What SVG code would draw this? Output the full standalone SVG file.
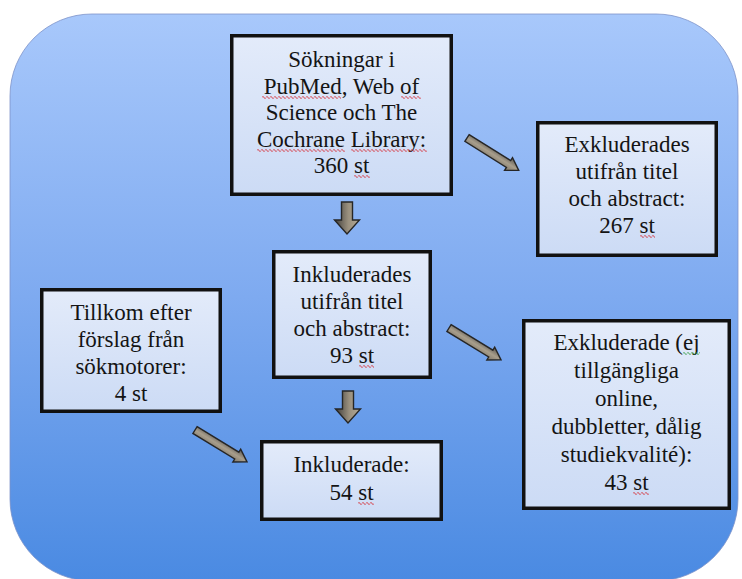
<svg xmlns="http://www.w3.org/2000/svg" width="742" height="579" viewBox="0 0 742 579">
<style>
.box{fill:url(#boxg);stroke:#111;stroke-width:3.5}
.t{font-family:"Liberation Serif","Times New Roman",serif;font-size:23px;fill:#141414;text-anchor:middle}
.arr{fill:url(#arrg);stroke:#262626;stroke-width:1.4;stroke-linejoin:miter}
.sqr{fill:url(#wr)}
.sqg{fill:url(#wg)}
</style>
<defs>
<linearGradient id="bg" x1="0" y1="0" x2="0" y2="1">
<stop offset="0" stop-color="#a8c8fb"/>
<stop offset="0.5" stop-color="#7eaaf0"/>
<stop offset="1" stop-color="#4a8ae2"/>
</linearGradient>
<linearGradient id="boxg" x1="0" y1="0" x2="0" y2="1">
<stop offset="0" stop-color="#e3ebfa"/>
<stop offset="1" stop-color="#ccdbf5"/>
</linearGradient>
<linearGradient id="arrg" x1="0" y1="0" x2="0" y2="1">
<stop offset="0" stop-color="#5a5650"/>
<stop offset="0.5" stop-color="#a89e8c"/>
<stop offset="1" stop-color="#7c7466"/>
</linearGradient>
<linearGradient id="arrgd" x1="0" y1="0" x2="1" y2="0">
<stop offset="0" stop-color="#3e3c3a"/>
<stop offset="0.55" stop-color="#9a907e"/>
<stop offset="1" stop-color="#b4aa96"/>
</linearGradient>
<pattern id="wr" width="4" height="3" patternUnits="userSpaceOnUse">
<path d="M0 1.5 L1 0.4 L3 2.6 L4 1.5" fill="none" stroke="#d8262e" stroke-width="0.9"/>
</pattern>
<pattern id="wg" width="4" height="3" patternUnits="userSpaceOnUse">
<path d="M0 1.5 L1 0.4 L3 2.6 L4 1.5" fill="none" stroke="#2a9a3a" stroke-width="0.9"/>
</pattern>
<path id="diag" d="M0,-4 L49,-4 L49,-7.5 L61,0 L49,7.5 L49,4 L0,4 Z"/>
<path id="down" d="M-5.5,0 L5.5,0 L5.5,18 L12.5,18 L0,32 L-12.5,18 L-5.5,18 Z"/>
</defs>

<rect x="10" y="14" width="728" height="567" rx="82" ry="82" fill="url(#bg)" stroke="#7d93c9" stroke-width="0.8"/>

<g id="connectors">
<use href="#down" class="arr" style="fill:url(#arrgd)" transform="translate(347,202)"/>
<use href="#down" class="arr" style="fill:url(#arrgd)" transform="translate(348,391)"/>
<use href="#diag" class="arr" transform="translate(467,138) rotate(32)"/>
<use href="#diag" class="arr" transform="translate(449,328) rotate(31.5)"/>
<use href="#diag" class="arr" transform="translate(195,430) rotate(31.5)"/>
</g>

<g id="node-sokningar">
<rect class="box" x="231.75" y="35.75" width="219.5" height="158.5"/>
<text class="t" x="341.5" y="67">Sökningar i</text>
<text class="t" x="341.5" y="93.5">PubMed, Web of</text>
<text class="t" x="341.5" y="120">Science och The</text>
<text class="t" x="341.5" y="146.5">Cochrane Library:</text>
<text class="t" x="341.5" y="173">360 st</text>
<rect class="sqr" transform="translate(262,96)" width="79" height="3"/>
<rect class="sqr" transform="translate(401,96)" width="20" height="3"/>
<rect class="sqr" transform="translate(257,149)" width="88" height="3"/>
<rect class="sqr" transform="translate(351,149)" width="76" height="3"/>
<rect class="sqr" transform="translate(354,175)" width="16" height="3"/>
</g>

<g id="node-exkluderades-titel">
<rect class="box" x="537.75" y="122.75" width="178.5" height="132.5"/>
<text class="t" x="627" y="152">Exkluderades</text>
<text class="t" x="627" y="179">utifrån titel</text>
<text class="t" x="627" y="206">och abstract:</text>
<text class="t" x="627" y="233">267 st</text>
<rect class="sqr" transform="translate(640,235)" width="15" height="3"/>
</g>

<g id="node-inkluderades-titel">
<rect class="box" x="273.75" y="251.75" width="156.5" height="125.5"/>
<text class="t" x="352" y="282">Inkluderades</text>
<text class="t" x="352" y="309">utifrån titel</text>
<text class="t" x="352" y="336">och abstract:</text>
<text class="t" x="352" y="363">93 st</text>
<rect class="sqr" transform="translate(359,365)" width="15" height="3"/>
</g>

<g id="node-tillkom">
<rect class="box" x="41.75" y="289.75" width="178.5" height="121.5"/>
<text class="t" x="131" y="320">Tillkom efter</text>
<text class="t" x="131" y="347">förslag från</text>
<text class="t" x="131" y="374">sökmotorer:</text>
<text class="t" x="131" y="401">4 st</text>
</g>

<g id="node-inkluderade">
<rect class="box" x="261.75" y="441.75" width="179.5" height="77.5"/>
<text class="t" x="351.5" y="472">Inkluderade:</text>
<text class="t" x="351.5" y="500">54 st</text>
<rect class="sqr" transform="translate(358,502)" width="16" height="3"/>
</g>

<g id="node-exkluderade-ej">
<rect class="box" x="523.75" y="320.75" width="205.5" height="187.5"/>
<text class="t" x="626.5" y="350">Exkluderade (ej</text>
<text class="t" x="626.5" y="378">tillgängliga</text>
<text class="t" x="626.5" y="406">online,</text>
<text class="t" x="626.5" y="434">dubbletter, dålig</text>
<text class="t" x="626.5" y="462">studiekvalité):</text>
<text class="t" x="626.5" y="490">43 st</text>
<rect class="sqg" transform="translate(683,352)" width="17" height="3"/>
<rect class="sqr" transform="translate(633,492)" width="16" height="3"/>
</g>
</svg>
